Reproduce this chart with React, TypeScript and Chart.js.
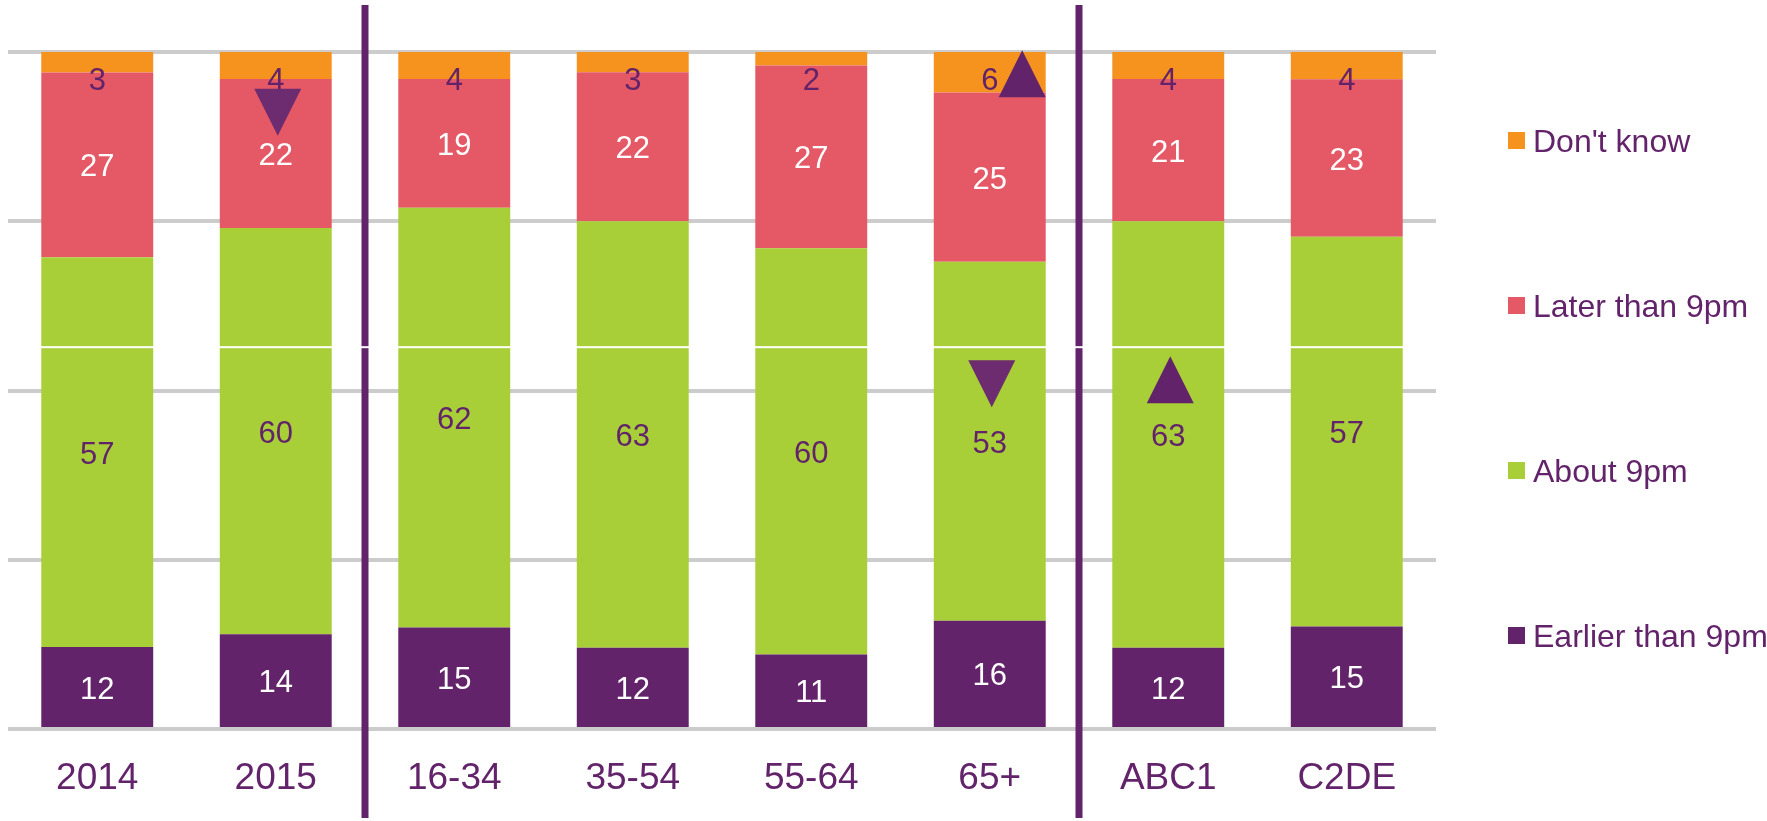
import React, { useEffect, useRef } from 'react';
import { Chart, registerables } from 'chart.js';

Chart.register(...registerables);

// ---- Data ----
const categories = ['2014', '2015', '16-34', '35-54', '55-64', '65+', 'ABC1', 'C2DE'];
const earlierThan9pm = [12, 14, 15, 12, 11, 16, 12, 15];
const about9pm = [57, 60, 62, 63, 60, 53, 63, 57];
const laterThan9pm = [27, 22, 19, 22, 27, 25, 21, 23];
const dontKnow = [3, 4, 4, 3, 2, 6, 4, 4];
const seriesNames = ['Earlier than 9pm', 'About 9pm', 'Later than 9pm', "Don't know"];
// significance markers: category index, y level (%), direction
const markerCategory = [1, 5, 5, 6];
const markerLevel = [91.1, 96.8, 51.0, 51.6];
const markerDirection = ['down', 'up', 'down', 'up'];
const markerAlign = ['center', 'right', 'center', 'center'];
// group separators after these category indices
const separatorsAfter = [1, 5];

// ---- Styles ----
const PURPLE = '#62236a';
const COLORS = ['#62236a', '#a8cf38', '#e55866', '#f5931e'];
const LABEL_COLORS = ['#ffffff', PURPLE, '#ffffff', PURPLE];
const FONT = '"Liberation Sans", Arial, Helvetica, sans-serif';

const raw = [earlierThan9pm, about9pm, laterThan9pm, dontKnow];
const totals = categories.map((_, i) => raw.reduce((s, arr) => s + arr[i], 0));

const overlayPlugin = {
  id: 'overlay',
  afterDatasetsDraw(chart: any) {
    const { ctx, chartArea, scales } = chart;
    const xs = scales.x;
    const ys = scales.y;
    ctx.save();

    // value labels
    ctx.textAlign = 'center';
    ctx.textBaseline = 'middle';
    ctx.font = `31px ${FONT}`;
    chart.data.datasets.forEach((_: any, di: number) => {
      const meta = chart.getDatasetMeta(di);
      meta.data.forEach((bar: any, i: number) => {
        const p = bar.getProps(['x', 'y', 'base'], true);
        let cy = (p.y + p.base) / 2 + 3;
        cy = Math.max(cy, chartArea.top + 29);
        ctx.fillStyle = LABEL_COLORS[di];
        ctx.fillText(String(raw[di][i]), p.x, cy);
      });
    });

    // separators
    ctx.fillStyle = PURPLE;
    separatorsAfter.forEach((ci) => {
      const sx = (xs.getPixelForValue(ci) + xs.getPixelForValue(ci + 1)) / 2;
      ctx.fillRect(sx - 3.5, 5, 7, chart.height - 8);
    });

    // markers
    const catW = (xs.getPixelForValue(1) - xs.getPixelForValue(0));
    const barW = catW * 0.627;
    markerCategory.forEach((ci, k) => {
      const w = 47;
      const h = 47;
      let cx = xs.getPixelForValue(ci);
      if (markerAlign[k] === 'right') cx = cx + barW / 2 - w / 2;
      else cx += 2;
      const cy = ys.getPixelForValue(markerLevel[k]);
      ctx.beginPath();
      if (markerDirection[k] === 'up') {
        ctx.fillStyle = PURPLE;
        ctx.moveTo(cx, cy - h / 2);
        ctx.lineTo(cx + w / 2, cy + h / 2);
        ctx.lineTo(cx - w / 2, cy + h / 2);
      } else {
        ctx.fillStyle = '#6d2b70';
        ctx.moveTo(cx - w / 2, cy - h / 2);
        ctx.lineTo(cx + w / 2, cy - h / 2);
        ctx.lineTo(cx, cy + h / 2);
      }
      ctx.closePath();
      ctx.fill();
    });

    // thin white seam across the plot
    ctx.fillStyle = '#ffffff';
    const seamY = ys.getPixelForValue(56.4);
    ctx.fillRect(0, seamY - 1, chartArea.right, 2);

    // legend (top series first)
    ctx.font = `32px ${FONT}`;
    ctx.textAlign = 'left';
    ctx.textBaseline = 'middle';
    const lx = chartArea.right + 72;
    for (let k = 0; k < 4; k++) {
      const di = 3 - k;
      const ly = chartArea.top + 89 + k * 165;
      ctx.fillStyle = COLORS[di];
      ctx.fillRect(lx, ly - 9, 17, 17);
      ctx.fillStyle = PURPLE;
      ctx.fillText(seriesNames[di], lx + 25, ly + 2);
    }
    ctx.restore();
  },
};

export default function App() {
  const ref = useRef<HTMLCanvasElement>(null);
  useEffect(() => {
    if (!ref.current) return;
    const datasets = raw.map((arr, di) => ({
      label: seriesNames[di],
      data: arr.map((v, i) => (v / totals[i]) * 100),
      backgroundColor: COLORS[di],
      borderWidth: 0,
      barPercentage: 0.627,
      categoryPercentage: 1,
      stack: 's',
    }));
    const chart = new Chart(ref.current, {
      type: 'bar',
      data: { labels: categories, datasets },
      options: {
        responsive: false,
        animation: false,
        layout: { padding: { left: 8, right: 331, top: 52, bottom: 0 } },
        plugins: { legend: { display: false }, tooltip: { enabled: false } },
        scales: {
          x: {
            stacked: true,
            grid: { display: false },
            border: { display: false },
            ticks: { color: PURPLE, font: { family: FONT, size: 37 }, padding: 20, maxRotation: 0 },
            afterFit: (axis: any) => { axis.height = 92; },
          },
          y: {
            stacked: true,
            min: 0,
            max: 100,
            ticks: { display: false, stepSize: 25 },
            grid: { color: '#cccccc', lineWidth: 4, drawTicks: false },
            border: { display: false },
            afterFit: (axis: any) => { axis.width = 0; },
          },
        },
      } as any,
      plugins: [overlayPlugin],
    });
    return () => chart.destroy();
  }, []);
  return (
    <div style={{ position: 'fixed', left: 0, top: 0, width: 1767, height: 821, background: '#fff' }}>
      <canvas ref={ref} width={1767} height={821} style={{ display: 'block' }} />
    </div>
  );
}
